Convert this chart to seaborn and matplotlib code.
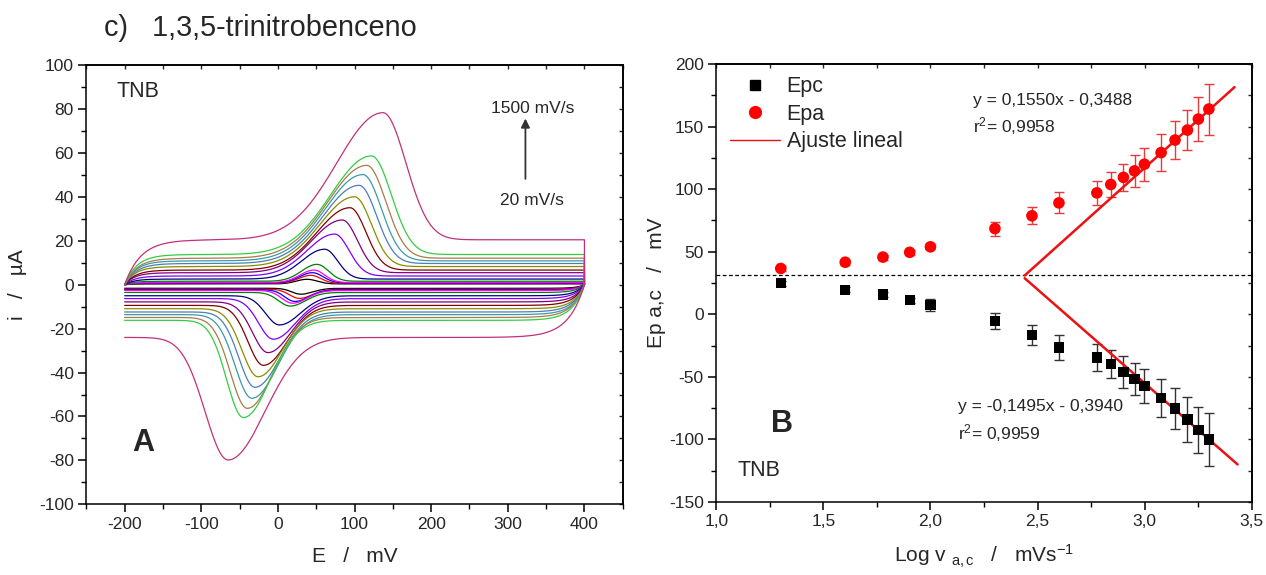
import numpy as np
import pandas as pd
import matplotlib
matplotlib.use("Agg")
import matplotlib.pyplot as plt
import seaborn as sns
from matplotlib.ticker import FixedLocator, FixedFormatter, MultipleLocator
from matplotlib.lines import Line2D

# ---------------- Panel A: cyclic voltammograms (inner -> outer) ----------------
cv_names = ["c%02d" % k for k in range(1, 16)]
cv_colors = ["#000000", "#ff0000", "#0000ff", "#ff00ff", "#008000", "#000080", "#8000ff",
             "#800080", "#800000", "#8c8c00", "#4a7fb8", "#3a9aaa", "#a87c48", "#33cc44", "#c2307a"]
ipa_cv = [2.5, 4.3, 5.5, 6.7, 9.3, 16.2, 23.1, 29.5, 35.1, 40.1, 45.3, 50.2, 54.4, 58.7, 78.4]
Epa_cv = [38, 43, 45, 47, 51, 61, 74, 84, 94, 100, 106, 111, 116, 122, 137]
ipc_cv = [-4.3, -6.2, -7.6, -8.4, -9.7, -18.3, -24.8, -30.9, -36.7, -41.9, -46.7, -51.7, -56.3, -60.5, -79.8]
Epc_cv = [30, 28, 22, 19, 16, 2, -6, -13, -19, -26, -30, -34, -40, -45, -65]
fwd_base = [0.4, 0.6, 0.8, 1.0, 1.6, 2.6, 4.0, 5.5, 6.7, 8.3, 9.7, 10.9, 12.1, 13.8, 20.5]
rev_base = [-1.6, -2.0, -2.3, -2.6, -3.5, -5.0, -6.3, -7.8, -9.4, -10.9, -12.4, -13.6, -14.9, -16.2, -24.0]
# peak half-widths (mV): anodic left/right, cathodic left/right
wa_left = [14, 16, 17, 18, 20, 30, 36, 40, 43, 45, 47, 49, 51, 53, 60]
wa_right = [13, 13, 14, 14, 15, 17, 19, 20, 21, 22, 23, 24, 25, 26, 30]
wc_left = [12, 13, 13, 14, 15, 18, 19, 20, 20, 21, 21, 22, 22, 22, 30]
wc_right = [16, 17, 18, 19, 20, 27, 29, 30, 31, 32, 33, 34, 34, 35, 48]
# rounding of the charging current at the scan limits (mV)
edge_round = [10, 10, 10, 11, 11, 12, 13, 13, 14, 14, 15, 15, 16, 16, 21]
E_start, E_switch = -200, 400

# ---------------- Panel B: peak potentials vs log v ----------------
log_v = [1.301, 1.602, 1.778, 1.903, 2.000, 2.301, 2.474, 2.600, 2.777, 2.842, 2.901,
         2.953, 2.999, 3.077, 3.142, 3.200, 3.251, 3.300]
Epa_mV = [36.6, 41.6, 45.7, 49.5, 53.9, 68.5, 78.7, 89.0, 97.0, 103.7, 109.4, 114.6,
          119.9, 129.2, 139.2, 147.2, 156.0, 164.0]
Epa_err = [2, 2, 2, 2, 2, 5.6, 6.7, 8.4, 9.3, 10.1, 10.9, 12.8, 13.1, 14.6, 15.2, 15.7, 17.4, 20.4]
Epc_mV = [24.9, 19.6, 15.8, 11.4, 7.6, -5.6, -16.5, -26.6, -34.6, -40.0, -46.1, -51.7,
          -57.3, -66.8, -75.3, -84.1, -92.6, -100.0]
Epc_err = [2, 2, 2, 2, 4.7, 6.4, 7.7, 9.7, 10.9, 11.1, 12.8, 13.1, 13.4, 15.1, 16.6, 17.8, 18.6, 20.9]
fit_a_x = [2.44, 3.42]
fit_a_y = [31.0, 181.5]
fit_c_x = [2.44, 3.434]
fit_c_y = [28.8, -120.0]
ref_level = 31.0

xticksA = [-200, -100, 0, 100, 200, 300, 400]
xlabelsA = ["-200", "-100", "0", "100", "200", "300", "400"]
yticksA = [-100, -80, -60, -40, -20, 0, 20, 40, 60, 80, 100]
ylabelsA = ["-100", "-80", "-60", "-40", "-20", "0", "20", "40", "60", "80", "100"]
xticksB = [1.0, 1.5, 2.0, 2.5, 3.0, 3.5]
xlabelsB = ["1,0", "1,5", "2,0", "2,5", "3,0", "3,5"]
yticksB = [-150, -100, -50, 0, 50, 100, 150, 200]
ylabelsB = ["-150", "-100", "-50", "0", "50", "100", "150", "200"]

# ---------------- build CV traces ----------------
def skew_peak(E, Ep, wl, wr):
    w = np.where(E < Ep, wl, wr)
    return np.exp(-((E - Ep) ** 2) / (2.0 * w ** 2))

rows = []
Ef = np.linspace(E_start, E_switch, 601)
Er = Ef[::-1]
for k, name in enumerate(cv_names):
    fb, rb, tau = fwd_base[k], rev_base[k], edge_round[k]
    i_f = fb * (1 - np.exp(-(Ef - E_start) / tau)) + (ipa_cv[k] - fb) * skew_peak(Ef, Epa_cv[k], wa_left[k], wa_right[k])
    i_r = rb * (1 - np.exp(-(E_switch - Er) / tau)) + (ipc_cv[k] - rb) * skew_peak(Er, Epc_cv[k], wc_left[k], wc_right[k])
    E_all = np.concatenate([Ef, Er])
    i_all = np.concatenate([i_f, i_r])
    rows.append(pd.DataFrame({"E": E_all, "i": i_all, "curve": name}))
cv = pd.concat(rows, ignore_index=True)

# ---------------- style ----------------
sns.set_theme(style="ticks")
plt.rcParams["font.family"] = ["Liberation Sans", "DejaVu Sans"]
plt.rcParams["mathtext.fontset"] = "custom"
plt.rcParams["mathtext.rm"] = "Liberation Sans"
plt.rcParams["mathtext.it"] = "Liberation Sans:italic"
plt.rcParams["axes.unicode_minus"] = False
plt.rcParams["axes.edgecolor"] = "black"

fig = plt.figure(figsize=(12.66, 5.75), dpi=100)
axA = fig.add_axes([0.0682, 0.1230, 0.4237, 0.7635])
axB = fig.add_axes([0.5658, 0.1270, 0.4229, 0.7617])

fig.text(104 / 1266, 1 - 36 / 575, "c)   1,3,5-trinitrobenceno", fontsize=20.8, ha="left", va="baseline")

# ---- Panel A ----
sns.lineplot(data=cv, x="E", y="i", hue="curve", hue_order=cv_names,
             palette=dict(zip(cv_names, cv_colors)), sort=False, estimator=None,
             linewidth=0.9, legend=False, ax=axA)
axA.set_xlim(-250, 450)
axA.set_ylim(-100, 100)
axA.xaxis.set_major_locator(FixedLocator(xticksA))
axA.xaxis.set_major_formatter(FixedFormatter(xlabelsA))
axA.xaxis.set_minor_locator(MultipleLocator(50))
axA.yaxis.set_major_locator(FixedLocator(yticksA))
axA.yaxis.set_major_formatter(FixedFormatter(ylabelsA))
axA.yaxis.set_minor_locator(MultipleLocator(10))
axA.set_xlabel("E   /   mV", fontsize=15, labelpad=11)
axA.set_ylabel("i   /   \u00b5A", fontsize=15, labelpad=9)
axA.text(-210, 88, "TNB", fontsize=15.5, ha="left", va="center")
axA.text(-176, -72, "A", fontsize=22, fontweight="bold", ha="center", va="center")
axA.text(333, 80.5, "1500 mV/s", fontsize=12.5, ha="center", va="center")
axA.text(331, 38.6, "20 mV/s", fontsize=12.5, ha="center", va="center")
axA.annotate("", xy=(323, 77), xytext=(323, 47),
             arrowprops=dict(arrowstyle="-|>", color="#333333", lw=1.3, mutation_scale=13))

# ---- Panel B ----
axB.axhline(ref_level, color="black", lw=0.9, ls=(0, (3, 2)))
axB.errorbar(log_v, Epa_mV, yerr=Epa_err, fmt="none", ecolor="#e83a3a", elinewidth=1.0, capsize=3.5, capthick=1.0)
axB.errorbar(log_v, Epc_mV, yerr=Epc_err, fmt="none", ecolor="#333333", elinewidth=1.0, capsize=3.5, capthick=1.0)
sns.lineplot(x=fit_a_x, y=fit_a_y, color="#ee1111", lw=1.8, ax=axB)
sns.lineplot(x=fit_c_x, y=fit_c_y, color="#ee1111", lw=1.8, ax=axB)
sns.scatterplot(x=log_v, y=Epc_mV, marker="s", color="black", s=55, edgecolor="none", ax=axB, zorder=5)
sns.scatterplot(x=log_v, y=Epa_mV, marker="o", color="#ff0000", s=70, edgecolor="none", ax=axB, zorder=5)
axB.set_xlim(1.0, 3.5)
axB.set_ylim(-150, 200)
axB.xaxis.set_major_locator(FixedLocator(xticksB))
axB.xaxis.set_major_formatter(FixedFormatter(xlabelsB))
axB.xaxis.set_minor_locator(MultipleLocator(0.25))
axB.yaxis.set_major_locator(FixedLocator(yticksB))
axB.yaxis.set_major_formatter(FixedFormatter(ylabelsB))
axB.yaxis.set_minor_locator(MultipleLocator(25))
axB.set_xlabel(r"Log v $_{\mathrm{a,c}}$   /   mVs$^{\mathrm{-1}}$", fontsize=15, labelpad=10)
axB.set_ylabel("Ep a,c   /   mV", fontsize=15, labelpad=2)
axB.text(2.198, 171.2, "y = 0,1550x - 0,3488", fontsize=12.5, ha="left", va="center")
axB.text(2.198, 150.4, r"r$^{\mathrm{2}}$= 0,9958", fontsize=12.5, ha="left", va="center")
axB.text(2.130, -73.8, "y = -0,1495x - 0,3940", fontsize=12.5, ha="left", va="center")
axB.text(2.130, -94.6, r"r$^{\mathrm{2}}$= 0,9959", fontsize=12.5, ha="left", va="center")
axB.text(1.307, -87.7, "B", fontsize=22, fontweight="bold", ha="center", va="center")
axB.text(1.10, -125, "TNB", fontsize=15.5, ha="left", va="center")

handles = [Line2D([], [], marker="s", color="black", ls="none", markersize=7.5),
           Line2D([], [], marker="o", color="#ff0000", ls="none", markersize=8.5),
           Line2D([], [], color="#ee1111", lw=1.0)]
axB.legend(handles, ["Epc", "Epa", "Ajuste lineal"], loc="upper left", bbox_to_anchor=(0.0256, 0.972),
           frameon=False, fontsize=15.5, handlelength=2.3, handletextpad=0.33, labelspacing=0.3,
           borderpad=0.0, borderaxespad=0.0)

for ax in (axA, axB):
    for s in ax.spines.values():
        s.set_visible(True)
        s.set_color("black")
        s.set_linewidth(1.1)
    ax.tick_params(which="major", direction="out", length=6, width=1.1, labelsize=12.5, color="black", pad=3)
    ax.tick_params(which="minor", direction="out", length=3.5, width=1.0, color="black")
    ax.grid(False)
    top = ax.secondary_xaxis("top")
    top.xaxis.set_major_locator(ax.xaxis.get_major_locator())
    top.xaxis.set_minor_locator(ax.xaxis.get_minor_locator())
    top.tick_params(which="both", direction="in", length=3, labeltop=False, width=1.0)
    right = ax.secondary_yaxis("right")
    right.yaxis.set_major_locator(ax.yaxis.get_major_locator())
    right.yaxis.set_minor_locator(ax.yaxis.get_minor_locator())
    right.tick_params(which="both", direction="in", length=3, labelright=False, width=1.0)

fig.savefig("out.png", dpi=100)
